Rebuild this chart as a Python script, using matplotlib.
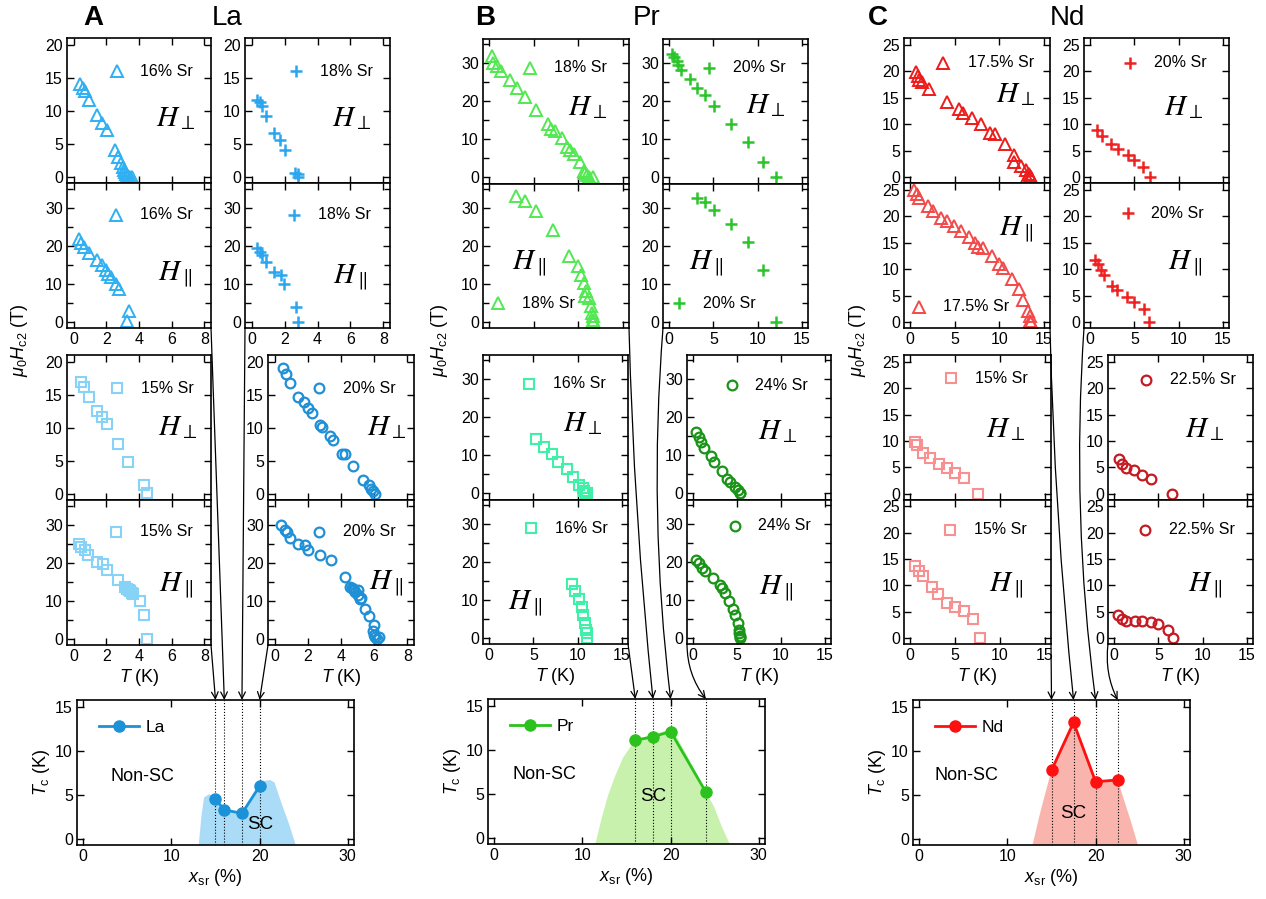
import matplotlib
matplotlib.use('Agg')
import matplotlib.pyplot as plt
from matplotlib.patches import ConnectionPatch
from matplotlib.ticker import MultipleLocator

plt.rcParams['font.family'] = ['Liberation Sans', 'DejaVu Sans']
plt.rcParams['mathtext.fontset'] = 'custom'
plt.rcParams['mathtext.rm'] = 'Liberation Sans'
plt.rcParams['mathtext.it'] = 'Liberation Sans:italic'
plt.rcParams['mathtext.bf'] = 'Liberation Sans:bold'

# ---- Hc2(T) data, La ----
la16_perp_T = [0.4, 0.55, 0.69, 0.95, 1.42, 1.72, 2.06, 2.53, 2.7, 2.9, 3.0, 3.1, 3.15, 3.2, 3.28, 3.35, 3.45, 3.55]
la16_perp_H = [14.0, 13.4, 13.0, 11.7, 9.4, 8.2, 7.1, 4.05, 3.0, 2.1, 1.5, 1.0, 0.7, 0.4, 0.2, 0.1, 0.05, 0.0]
la16_para_T = [0.34, 0.45, 0.65, 0.95, 1.46, 1.76, 1.96, 2.1, 2.27, 2.57, 2.77, 3.38, 3.28]
la16_para_H = [21.8, 20.9, 19.8, 18.2, 16.3, 15.0, 13.7, 12.6, 11.9, 10.0, 8.6, 2.9, 0.3]
la18_perp_T = [0.34, 0.51, 0.65, 0.87, 1.36, 1.72, 2.02, 2.63, 2.79, 2.83]
la18_perp_H = [11.7, 11.4, 10.7, 9.2, 6.7, 5.6, 4.05, 0.6, 0.4, 0.0]
la18_para_T = [0.34, 0.51, 0.65, 0.87, 1.36, 1.78, 1.97, 2.7, 2.83]
la18_para_H = [19.4, 18.5, 17.6, 15.7, 13.2, 12.3, 10.0, 4.0, 0.0]
la15_perp_T = [0.45, 0.65, 0.95, 1.42, 1.76, 2.06, 2.71, 3.34, 4.29, 4.5]
la15_perp_H = [16.9, 16.2, 14.6, 12.5, 11.6, 10.6, 7.5, 4.9, 1.4, 0.1]
la15_para_T = [0.34, 0.45, 0.69, 0.89, 1.46, 1.82, 2.02, 2.71, 3.16, 3.26, 3.36, 3.46, 3.56, 3.66, 4.05, 4.29, 4.5]
la15_para_H = [25.1, 24.2, 23.5, 22.0, 20.2, 19.8, 18.2, 15.6, 13.8, 13.2, 12.9, 12.6, 12.2, 11.9, 10.1, 6.3, 0.0]
la20_perp_T = [0.51, 0.67, 0.95, 1.42, 1.76, 2.02, 2.27, 2.73, 2.83, 3.34, 3.5, 4.05, 4.25, 4.72, 5.32, 5.67, 5.81, 5.93, 6.07]
la20_perp_H = [19.0, 18.1, 16.7, 14.7, 13.9, 13.0, 12.2, 10.4, 10.1, 8.7, 8.2, 6.1, 6.1, 4.2, 2.1, 1.3, 0.8, 0.4, 0.0]
la20_para_T = [0.4, 0.61, 0.75, 0.91, 1.42, 1.82, 2.02, 2.73, 3.38, 4.25, 4.55, 4.65, 4.72, 4.8, 4.86, 5.0, 5.05, 5.16, 5.2,
               5.47, 5.67, 6.01, 5.93, 5.97, 6.07, 6.28, 6.17]
la20_para_H = [30.0, 28.8, 28.2, 26.7, 25.1, 24.7, 23.3, 22.2, 20.7, 16.4, 13.8, 13.5, 13.2, 12.8, 12.3, 12.9, 11.5, 10.5, 10.9,
               8.0, 6.0, 3.8, 2.0, 1.0, 0.4, 0.4, 0.0]

# ---- Hc2(T) data, Pr ----
pr18_perp_T = [0.3, 0.46, 0.84, 1.33, 2.28, 3.12, 4.07, 5.25, 6.65, 6.96, 7.41, 8.17, 8.75, 9.05, 9.5, 10.2, 10.6, 10.8, 11.0, 11.2, 11.6]
pr18_perp_H = [31.8, 30.0, 29.3, 28.1, 25.6, 23.4, 21.2, 17.8, 14.1, 12.8, 12.2, 10.4, 8.1, 7.1, 6.2, 4.0, 1.8, 1.1, 0.7, 0.2, 0.0]
pr18_para_T = [3.04, 4.0, 5.25, 7.15, 8.93, 9.96, 10.3, 10.65, 10.9, 10.8, 11.2, 11.4, 11.5, 11.6, 11.67, 11.7]
pr18_para_H = [33.1, 31.7, 29.1, 24.3, 17.4, 14.6, 12.3, 10.3, 8.1, 6.8, 6.4, 4.3, 2.4, 1.5, 0.6, 0.0]
pr20_perp_T = [0.34, 0.53, 0.83, 1.0, 1.3, 2.3, 3.2, 4.0, 5.1, 7.0, 8.9, 10.6, 12.1]
pr20_perp_H = [32.5, 31.6, 30.7, 29.6, 28.2, 25.9, 23.6, 21.6, 18.7, 14.1, 9.3, 4.0, 0.0]
pr20_para_T = [3.2, 4.0, 5.1, 7.0, 8.9, 10.6, 12.1]
pr20_para_H = [32.7, 31.5, 29.5, 25.8, 20.9, 13.7, 0.0]
pr16_perp_T = [5.25, 6.2, 7.06, 7.8, 8.76, 9.44, 10.2, 10.58, 10.7, 10.96, 11.1]
pr16_perp_H = [14.3, 12.3, 10.4, 8.3, 6.4, 4.4, 2.1, 1.5, 0.6, 0.2, 0.0]
pr16_para_T = [9.33, 9.7, 10.16, 10.46, 10.65, 10.84, 10.96, 11.03, 11.1]
pr16_para_H = [14.2, 12.3, 10.3, 8.2, 5.9, 4.0, 2.2, 1.2, 0.0]
pr24_perp_T = [0.3, 0.64, 0.91, 1.28, 2.04, 2.42, 3.29, 3.85, 4.23, 4.8, 5.06, 5.29, 5.36]
pr24_perp_H = [16.1, 14.8, 13.5, 11.9, 9.9, 8.3, 5.9, 3.9, 3.0, 1.8, 0.9, 0.2, 0.0]
pr24_para_T = [0.3, 0.64, 1.02, 1.32, 2.23, 3.02, 3.29, 3.66, 4.04, 4.53, 4.8, 5.06, 5.17, 5.25, 5.29, 5.3, 5.35]
pr24_para_H = [20.5, 19.6, 18.4, 17.6, 15.8, 14.0, 13.1, 11.9, 9.8, 7.7, 5.9, 3.8, 2.2, 1.2, 0.6, 0.3, 0.0]

# ---- Hc2(T) data, Nd ----
nd175_perp_T = [0.64, 0.83, 1.01, 1.31, 2.14, 4.09, 5.44, 5.96, 6.94, 7.95, 9.0, 9.56, 10.69, 11.7, 11.6, 12.45, 13.0, 13.3, 13.6, 13.1, 13.4]
nd175_perp_H = [19.9, 19.1, 18.4, 18.0, 16.6, 14.2, 12.9, 12.2, 11.1, 10.1, 8.4, 8.1, 6.2, 4.1, 2.8, 2.2, 1.3, 0.6, 0.1, 0.0, 0.3]
nd175_para_T = [0.45, 0.71, 1.01, 1.95, 2.51, 3.45, 4.09, 4.95, 5.7, 6.56, 7.31, 7.57, 8.21, 9.19, 9.94, 10.39, 11.44,
                12.26, 12.7, 13.2, 13.4, 13.46, 13.57]
nd175_para_H = [25.0, 24.2, 23.4, 22.0, 21.0, 19.7, 19.1, 18.2, 17.3, 16.1, 15.0, 14.2, 14.1, 12.5, 10.9, 10.3, 8.2,
                6.3, 4.2, 2.2, 1.2, 0.3, 0.0]
nd20_perp_T = [0.75, 1.39, 2.34, 3.2, 4.22, 4.98, 5.96, 6.78]
nd20_perp_H = [9.0, 7.7, 6.3, 5.4, 4.1, 3.3, 1.9, 0.0]
nd20_para_T = [0.57, 0.83, 1.21, 1.51, 2.45, 3.02, 4.15, 4.98, 6.03, 6.6]
nd20_para_H = [11.7, 10.9, 9.9, 9.0, 6.9, 6.1, 4.75, 3.9, 2.5, 0.0]
nd15_perp_T = [0.56, 0.75, 1.39, 2.25, 3.15, 4.09, 4.95, 6.0, 7.58]
nd15_perp_H = [9.8, 9.2, 7.7, 6.7, 5.7, 4.8, 3.9, 2.9, 0.0]
nd15_para_T = [0.56, 0.94, 1.39, 2.4, 3.08, 4.09, 4.95, 6.0, 7.0, 7.76]
nd15_para_H = [13.7, 12.7, 11.7, 9.7, 8.4, 6.7, 5.9, 5.1, 3.6, 0.0]
nd225_perp_T = [0.49, 0.87, 1.36, 2.19, 3.13, 4.15, 6.52]
nd225_perp_H = [6.5, 5.7, 4.9, 4.4, 3.6, 2.8, 0.0]
nd225_para_T = [0.41, 0.87, 1.36, 2.37, 3.13, 4.18, 5.01, 6.03, 6.63]
nd225_para_H = [4.4, 3.6, 3.3, 3.3, 3.3, 3.1, 2.7, 1.6, 0.0]

# ---- Tc vs Sr content ----
la_x = [15, 16, 18, 20]
la_tc = [4.5, 3.3, 2.9, 6.0]
pr_x = [16, 18, 20, 24]
pr_tc = [11.1, 11.5, 12.1, 5.2]
nd_x = [15, 17.5, 20, 22.5]
nd_tc = [7.8, 13.25, 6.5, 6.7]

# outline of the shaded SC dome
la_dome_x = [13.1, 13.4, 13.7, 14.3, 15.0, 16.0, 18.0, 20.0, 20.6, 21.2, 21.7, 22.5, 23.3, 24.1]
la_dome_y = [-0.7, 2.5, 4.7, 5.1, 4.5, 3.3, 2.9, 6.0, 6.6, 6.7, 6.4, 4.0, 1.8, -0.7]
pr_dome_x = [11.47, 12.15, 12.9, 13.7, 14.6, 15.6, 16.5, 18.0, 19.6, 20.7, 21.8, 22.98, 24.0, 24.9, 25.8, 26.7]
pr_dome_y = [-0.7, 2.1, 4.8, 7.0, 9.1, 10.6, 11.3, 11.8, 12.2, 11.5, 9.5, 7.2, 5.2, 3.6, 1.3, -0.7]
nd_dome_x = [12.85, 13.7, 14.3, 15.0, 17.5, 20.0, 22.5, 23.2, 24.0, 24.8]
nd_dome_y = [-0.7, 2.9, 5.2, 7.8, 13.25, 6.5, 6.7, 4.5, 2.0, -0.7]

W, H = 1266, 899
fig = plt.figure(figsize=(W / 100, H / 100), dpi=100)


def box(x0, y0, x1, y1):
    return [x0 / W, 1 - y1 / H, (x1 - x0) / W, (y1 - y0) / H]


def style(ax, xlim, xstep, ylim, ystep, yminor=None):
    ax.set_xlim(*xlim)
    ax.set_ylim(*ylim)
    ax.xaxis.set_major_locator(MultipleLocator(xstep))
    ax.yaxis.set_major_locator(MultipleLocator(ystep))
    if yminor:
        ax.yaxis.set_minor_locator(MultipleLocator(yminor))
    ax.tick_params(which='both', direction='in', top=True, right=True, width=1.0, labelsize=11.5, pad=3)
    ax.tick_params(which='major', length=5)
    ax.tick_params(which='minor', length=4)
    for s in ax.spines.values():
        s.set_linewidth(1.2)


def block(x0, x1, y0, y1, xlim, xstep, ylims, xlabels=True, xlabel=False):
    ym = (y0 + y1) / 2
    top = fig.add_axes(box(x0, y0, x1, ym))
    bot = fig.add_axes(box(x0, ym, x1, y1))
    for ax, (lim, st, mn) in zip((top, bot), ylims):
        style(ax, xlim, xstep, lim, st, mn)
    top.tick_params(labelbottom=False)
    if not xlabels:
        bot.tick_params(labelbottom=False)
    if xlabel:
        bot.set_xlabel('$T$ (K)', fontsize=13, labelpad=2)
    return top, bot


STY = {'^': dict(ms=8.5, mew=1.4), '+': dict(ms=8.5, mew=1.8),
       's': dict(ms=7, mew=1.5), 'o': dict(ms=7, mew=1.6)}


def hc2(ax, T, Hc, marker, color, label, perp, key, field):
    kw = dict(ls='none', marker=marker, mfc='none', mec=color, **STY[marker])
    ax.plot(T, Hc, clip_on=False, **kw)
    ax.plot([key[0]], [key[1]], transform=ax.transAxes, **kw)
    ax.text(key[0] + 0.165, key[1], label, transform=ax.transAxes, va='center', ha='left', fontsize=11.5)
    sym = r'$H_{\perp}$' if perp else r'$H_{\parallel}$'
    ax.text(field[0], field[1], sym, transform=ax.transAxes, va='center', ha='left',
            fontsize=21, math_fontfamily='stix')


la_lim = [((-0.9, 21), 5, None), ((-1.6, 36.6), 10, 5)]
pr_lim = [((-1.6, 36.4), 10, 5), ((-1.6, 36.4), 10, 5)]
nd_lim = [((-1.1, 26.3), 5, None), ((-1.1, 26.3), 5, None)]
la_T = ((-0.4, 8.4), 2)
pr_T = ((-0.7, 15.7), 5)

# La column
c = ['#2fb0f2', '#2aa6ef', '#86d3f7', '#1f8fd6']
a, b = block(67, 211, 38, 328, *la_T, la_lim)
hc2(a, la16_perp_T, la16_perp_H, '^', c[0], '16% Sr', True, (0.345, 0.77), (0.62, 0.45))
hc2(b, la16_para_T, la16_para_H, '^', c[0], '16% Sr', False, (0.34, 0.78), (0.63, 0.37))
la_ul = b
a, b = block(245, 390, 38, 328, *la_T, la_lim)
hc2(a, la18_perp_T, la18_perp_H, '+', c[1], '18% Sr', True, (0.35, 0.77), (0.60, 0.45))
hc2(b, la18_para_T, la18_para_H, '+', c[1], '18% Sr', False, (0.34, 0.78), (0.61, 0.35))
la_ur = b
a, b = block(67, 211, 355, 645, *la_T, la_lim, xlabel=True)
hc2(a, la15_perp_T, la15_perp_H, 's', c[2], '15% Sr', True, (0.35, 0.77), (0.63, 0.50))
hc2(b, la15_para_T, la15_para_H, 's', c[2], '15% Sr', False, (0.34, 0.78), (0.64, 0.41))
la_ll = b
a, b = block(268, 414, 355, 645, *la_T, la_lim, xlabel=True)
hc2(a, la20_perp_T, la20_perp_H, 'o', c[3], '20% Sr', True, (0.35, 0.77), (0.68, 0.50))
hc2(b, la20_para_T, la20_para_H, 'o', c[3], '20% Sr', False, (0.35, 0.78), (0.69, 0.43))
la_lr = b

# Pr column
c = ['#52e852', '#2bc42b', '#40f0a8', '#1a9418']
a, b = block(483, 629, 39, 328, *pr_T, pr_lim, xlabels=False)
hc2(a, pr18_perp_T, pr18_perp_H, '^', c[0], '18% Sr', True, (0.32, 0.80), (0.58, 0.53))
hc2(b, pr18_para_T, pr18_para_H, '^', c[0], '18% Sr', False, (0.10, 0.17), (0.20, 0.45))
pr_ul = b
a, b = block(663, 808, 39, 328, *pr_T, pr_lim)
hc2(a, pr20_perp_T, pr20_perp_H, '+', c[1], '20% Sr', True, (0.32, 0.80), (0.57, 0.54))
hc2(b, pr20_para_T, pr20_para_H, '+', c[1], '20% Sr', False, (0.11, 0.17), (0.18, 0.45))
pr_ur = b
a, b = block(483, 628, 355, 644, *pr_T, pr_lim, xlabel=True)
hc2(a, pr16_perp_T, pr16_perp_H, 's', c[2], '16% Sr', True, (0.32, 0.80), (0.55, 0.53))
hc2(b, pr16_para_T, pr16_para_H, 's', c[2], '16% Sr', False, (0.33, 0.80), (0.17, 0.28))
pr_ll = b
a, b = block(687, 831, 355, 644, *pr_T, pr_lim, xlabel=True)
hc2(a, pr24_perp_T, pr24_perp_H, 'o', c[3], '24% Sr', True, (0.31, 0.79), (0.49, 0.47))
hc2(b, pr24_para_T, pr24_para_H, 'o', c[3], '24% Sr', False, (0.33, 0.82), (0.50, 0.39))
pr_lr = b

# Nd column
a, b = block(904, 1050, 38, 328, *pr_T, nd_lim)
hc2(a, nd175_perp_T, nd175_perp_H, '^', '#ee1b1b', '17.5% Sr', True, (0.27, 0.83), (0.63, 0.61))
hc2(b, nd175_para_T, nd175_para_H, '^', '#f24a4a', '17.5% Sr', False, (0.10, 0.145), (0.65, 0.68))
nd_ul = b
a, b = block(1084, 1229, 38, 328, *pr_T, nd_lim)
hc2(a, nd20_perp_T, nd20_perp_H, '+', '#ee2222', '20% Sr', True, (0.32, 0.83), (0.55, 0.52))
hc2(b, nd20_para_T, nd20_para_H, '+', '#ee2222', '20% Sr', False, (0.30, 0.79), (0.58, 0.45))
nd_ur = b
a, b = block(904, 1051, 355, 644, *pr_T, nd_lim, xlabel=True)
hc2(a, nd15_perp_T, nd15_perp_H, 's', '#f79090', '15% Sr', True, (0.32, 0.84), (0.56, 0.49))
hc2(b, nd15_para_T, nd15_para_H, 's', '#f79090', '15% Sr', False, (0.31, 0.79), (0.58, 0.41))
nd_ll = b
a, b = block(1108, 1253, 355, 644, *pr_T, nd_lim, xlabel=True)
hc2(a, nd225_perp_T, nd225_perp_H, 'o', '#c41a22', '22.5% Sr', True, (0.26, 0.83), (0.53, 0.49))
hc2(b, nd225_para_T, nd225_para_H, 'o', '#c41a22', '22.5% Sr', False, (0.255, 0.79), (0.55, 0.41))
nd_lr = b


def tc_panel(bx, x, tc, dx, dy, color, fill, name, nonsc, sc):
    ax = fig.add_axes(box(*bx))
    style(ax, (-0.7, 30.7), 10, (-0.7, 15.8), 5)
    ax.fill(dx, dy, color=fill, lw=0, zorder=1)
    for xi in x:
        ax.axvline(xi, color='k', ls=':', lw=0.8, zorder=2)
    ax.plot(x, tc, '-o', color=color, lw=2, ms=8, label=name, zorder=3)
    ax.legend(loc='center left', bbox_to_anchor=(0.08, 0.81), frameon=False, fontsize=12.5,
              handlelength=2.3, handletextpad=0.4, borderpad=0, borderaxespad=0)
    ax.text(nonsc[0], nonsc[1], 'Non-SC', transform=ax.transAxes, fontsize=13, va='center', ha='left')
    ax.text(sc[0], sc[1], 'SC', transform=ax.transAxes, fontsize=13.5, va='center', ha='center')
    ax.set_xlabel(r'$x_{\mathrm{sr}}$ (%)', fontsize=13, labelpad=2)
    ax.set_ylabel(r'$T_{\mathrm{c}}$ (K)', fontsize=13, labelpad=2)
    return ax


la_b = tc_panel((77, 700, 354, 845), la_x, la_tc, la_dome_x, la_dome_y, '#1b92d8', '#aadcf8', 'La',
                (0.12, 0.47), (0.66, 0.14))
pr_b = tc_panel((488, 699, 765, 844), pr_x, pr_tc, pr_dome_x, pr_dome_y, '#2cc21d', '#c9f1ae', 'Pr',
                (0.09, 0.476), (0.596, 0.33))
nd_b = tc_panel((913, 700, 1190, 845), nd_x, nd_tc, nd_dome_x, nd_dome_y, '#ff1010', '#f9b5ad', 'Nd',
                (0.076, 0.476), (0.578, 0.22))


# arrows from each sample's panel pair down to its composition
def link(src, corner, dst, xi, rad):
    con = ConnectionPatch(xyA=corner, coordsA='axes fraction', axesA=src,
                          xyB=(xi, 1.0), coordsB=dst.get_xaxis_transform(), axesB=dst,
                          arrowstyle='->', connectionstyle='arc3,rad=%g' % rad,
                          mutation_scale=12, lw=0.9, color='k', shrinkA=0, shrinkB=0)
    fig.add_artist(con)


for src, corner, xi, rad in [(la_ll, (1, 0), 15, 0), (la_ul, (1, 0), 16, 0),
                             (la_ur, (0, 0), 18, 0), (la_lr, (0, 0), 20, 0)]:
    link(src, corner, la_b, xi, rad)
for src, corner, xi, rad in [(pr_ll, (1, 0), 16, 0), (pr_ul, (1, 0), 18, 0.02),
                             (pr_ur, (0, 0), 20, 0.05), (pr_lr, (0, 0), 24, 0.17)]:
    link(src, corner, pr_b, xi, rad)
for src, corner, xi, rad in [(nd_ll, (1, 0), 15, 0), (nd_ul, (1, 0), 17.5, 0.02),
                             (nd_ur, (0, 0), 20, 0.05), (nd_lr, (0, 0), 22.5, 0.15)]:
    link(src, corner, nd_b, xi, rad)

# column headings and shared y labels
for letter, lx, elem, ex in [('A', 93, 'La', 227), ('B', 485, 'Pr', 647), ('C', 878, 'Nd', 1067)]:
    fig.text(lx / W, 1 - 18 / H, letter, fontsize=20, fontweight='bold', ha='center', va='center')
    fig.text(ex / W, 1 - 18 / H, elem, fontsize=20, ha='center', va='center')
for yx in [20, 439, 858]:
    fig.text(yx / W, 1 - 340 / H, r'$\mu_0H_{\mathrm{c2}}$ (T)', fontsize=13, rotation=90,
             ha='center', va='center')

fig.savefig('out.png', dpi=100)
